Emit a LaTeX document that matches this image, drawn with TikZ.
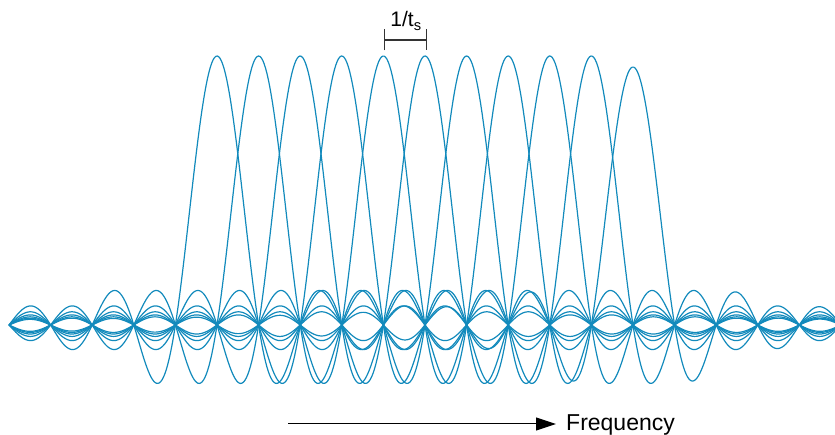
\documentclass[tikz,border=0pt]{standalone}
\usepackage{fontspec}
\setmainfont{Liberation Sans}
\usetikzlibrary{arrows.meta}
\definecolor{carrierblue}{RGB}{18,138,188}

\begin{document}
\begin{tikzpicture}[x=1pt, y=1pt,
  declare function={sinc(\u)=abs(\u)<0.02 ? 1-(pi*\u)^2/6 : sin(180*\u)/(pi*\u);},
  carrier/.style={carrierblue, line width=1.2pt, line join=round},
  spacing/.style={line width=1.2pt, black!80, {Bar[width=21pt]}-{Bar[width=21pt]}},
  freqarrow/.style={line width=1pt, -{Triangle[length=20pt, width=13pt]}},
  axislabel/.style={inner sep=0pt, font=\fontsize{23}{25}\selectfont}]
  \useasboundingbox (0,0) rectangle (835,435);
  % one sinc per subcarrier
  \foreach \k in {0,...,10}{
    \pgfmathsetmacro{\fk}{217+41.6*\k}
    \pgfmathsetmacro{\amp}{\k==10 ? 258 : 269}
    \draw[carrier] plot[domain=9:835, samples=600]
      (\x, {110 + \amp*sinc((\x-\fk)/41.6+0.000137)});
  }
  % subcarrier spacing
  \coordinate (tsleft) at (384,395);
  \coordinate (tsright) at (427,395);
  \draw[spacing] (tsleft) -- (tsright);
  \node[inner sep=0pt, anchor=base, font=\fontsize{21}{23}\selectfont] (tslabel) at (406,408)
    {1/t\textsubscript{s}};
  % frequency axis
  \node[axislabel, anchor=base west] (freq) at (566,4.3) {Frequency};
  \coordinate (fstart) at (288,11);
  \coordinate (fend) at (556,11);
  \draw[freqarrow] (fstart) -- (fend);
\end{tikzpicture}
\end{document}
